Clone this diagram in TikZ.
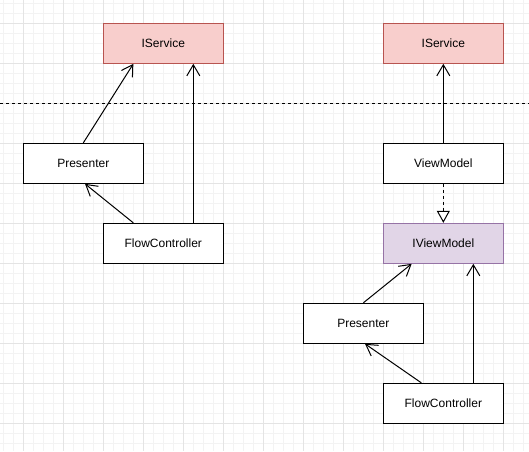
\documentclass[tikz,border=0pt]{standalone}
\usepackage{fontspec}
\setmainfont{Liberation Sans}
\usetikzlibrary{arrows.meta}
\definecolor{redfill}{HTML}{F8CECC}
\definecolor{redline}{HTML}{B85450}
\definecolor{purpfill}{HTML}{E1D5E7}
\definecolor{purpline}{HTML}{9673A6}
\definecolor{gridmajor}{HTML}{E4E4E4}
\definecolor{gridminor}{HTML}{F3F3F3}
\tikzset{
  box/.style={draw=black, line width=1pt, fill=white, minimum width=120pt, minimum height=40pt, inner sep=0pt, font=\fontsize{12pt}{14pt}\selectfont},
  svcbox/.style={box, draw=redline, fill=redfill},
  ivmbox/.style={box, draw=purpline, fill=purpfill},
  dep/.style={draw=black, line width=1pt, -{Straight Barb[length=11pt,width=13pt,line width=1pt]}},
  impl/.style={draw=black, line width=1pt, dash pattern=on 3pt off 3pt, -{Triangle[open,length=12pt,width=13pt,line width=1pt,fill=white]}},
  sep/.style={draw=black, line width=1pt, dash pattern=on 3pt off 3pt},
  gminor/.style={draw=gridminor, line width=0.8pt},
  gmajor/.style={draw=gridmajor, line width=1pt}
}
\begin{document}
\begin{tikzpicture}[x=1pt,y=-1pt]
\useasboundingbox (0,0) rectangle (529,451);
\fill[white] (0,0) rectangle (529,451);
% grid
\foreach \v in {3.33,13.33,...,529} {
  \draw[gminor] (\v,0) -- (\v,451);
}
\foreach \v in {3.33,13.33,...,451} {
  \draw[gminor] (0,\v) -- (529,\v);
}
\foreach \v in {23.33,63.33,...,529} {
  \draw[gmajor] (\v,0) -- (\v,451);
}
\foreach \v in {23.33,63.33,...,451} {
  \draw[gmajor] (0,\v) -- (529,\v);
}
% separator
\coordinate (sepL) at (0,103.33);
\coordinate (sepR) at (529,103.33);
\draw[sep] (sepL) -- (sepR);
% left diagram
\node[svcbox] (LIS) at (163.33,43.33) {IService};
\node[box] (LP) at (83.33,163.33) {Presenter};
\node[box] (LFC) at (163.33,243.33) {FlowController};
% right diagram
\node[svcbox] (RIS) at (443.33,43.33) {IService};
\node[box] (VM) at (443.33,163.33) {ViewModel};
\node[ivmbox] (IVM) at (443.33,243.33) {IViewModel};
\node[box] (RP) at (363.33,323.33) {Presenter};
\node[box] (RFC) at (443.33,403.33) {FlowController};
% left connectors
\draw[dep] (LP.north) -- ([xshift=-30pt]LIS.south);
\draw[dep] ([xshift=30pt]LFC.north) -- ([xshift=30pt]LIS.south);
\draw[dep] ([xshift=-30pt]LFC.north) -- ([xshift=1.7pt]LP.south);
% right connectors
\draw[dep] (VM.north) -- (RIS.south);
\draw[impl] (VM.south) -- (IVM.north);
\draw[dep] (RP.north) -- ([xshift=-31.7pt]IVM.south);
\draw[dep] ([xshift=30pt]RFC.north) -- ([xshift=30pt]IVM.south);
\draw[dep] ([xshift=-22pt]RFC.north) -- ([xshift=1.7pt]RP.south);
\end{tikzpicture}
\end{document}
